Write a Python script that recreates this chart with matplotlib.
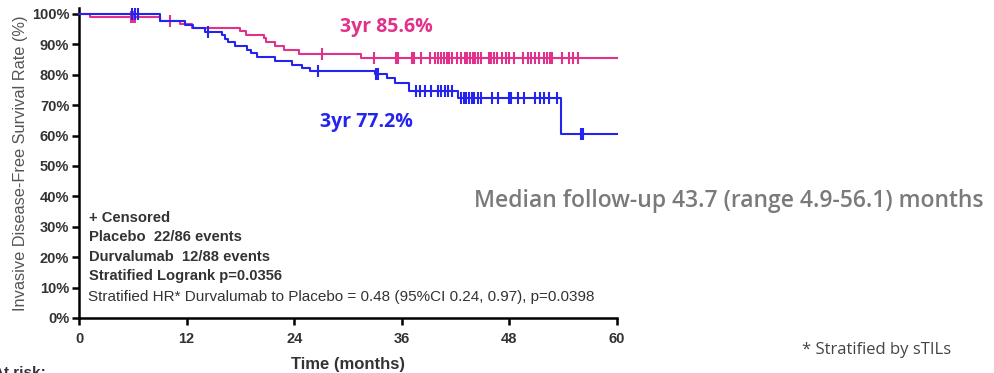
import numpy as np
import matplotlib.pyplot as plt
from matplotlib import font_manager

# Kaplan-Meier step data (months, survival %)
durva_t = [0, 1.2, 9.0, 11.3, 12.6, 17.9, 18.6, 20.6, 20.9, 21.9, 22.9, 24.5, 31.4]
durva_s = [100, 98.9, 97.8, 96.7, 95.5, 94.4, 93.2, 92.2, 90.9, 89.4, 88.1, 86.8, 85.6]
durva_cens = [5.8, 6.0, 6.3, 10.1, 27.1, 32.9, 35.3, 35.6, 37.1, 37.4, 38.1, 39.1,
              39.7, 40.0, 40.4, 40.7, 41.0, 41.3, 41.6, 42.2, 42.6, 43.0, 43.3, 43.6,
              43.9, 44.2, 44.5, 44.8, 45.7, 46.0, 46.3, 46.6, 47.2, 47.6, 47.9, 48.5,
              49.5, 50.1, 50.4, 50.8, 51.3, 51.9, 52.2, 52.5, 52.8, 53.9, 54.6, 55.1, 55.6]

plac_t = [0, 9.0, 11.8, 12.7, 14.0, 16.0, 16.3, 16.6, 17.4, 18.7, 19.2, 19.9, 21.9,
          23.8, 24.9, 25.8, 33.0, 34.4, 35.2, 36.8, 42.3, 53.7]
plac_s = [100, 97.7, 96.5, 95.3, 94.2, 93.0, 91.8, 90.6, 89.4, 88.2, 87.0, 85.9, 84.5,
          83.2, 82.3, 81.3, 80.2, 78.9, 77.2, 74.7, 72.5, 60.5]
plac_cens = [5.9, 6.2, 6.6, 14.4, 26.7, 33.1, 33.3, 37.6, 38.0, 38.6, 39.3, 40.0, 40.4,
             40.8, 41.2, 41.6, 42.6, 42.9, 43.2, 43.5, 43.8, 44.1, 44.5, 44.8, 46.1,
             46.7, 47.9, 48.2, 49.0, 49.6, 50.9, 51.4, 51.9, 52.4, 53.3, 56.0, 56.2]

x_ticks = [0, 12, 24, 36, 48, 60]
y_ticks = [0, 10, 20, 30, 40, 50, 60, 70, 80, 90, 100]

PINK = '#E2318A'
BLUE = '#2424EE'
DARK = '#333333'
ARIAL = ['Liberation Sans', 'DejaVu Sans']
CALIBRI = ['Open Sans', 'DejaVu Sans']

# narrow face for the HR line if it is around
names = {f.name for f in font_manager.fontManager.ttflist}
if 'Liberation Sans Narrow' in names:
    hr_font, hr_size = ['Liberation Sans Narrow', 'DejaVu Sans'], 13
else:
    hr_font, hr_size = ARIAL, 11


def surv_at(t, times, surv):
    idx = np.searchsorted(times, t, side='right') - 1
    return np.asarray(surv)[idx]


fig = plt.figure(figsize=(9.95, 3.73), dpi=100)
ax = fig.add_axes([0.0794, 0.1475, 0.5407, 0.8315])

for times, surv, cens, col in [(durva_t, durva_s, durva_cens, PINK),
                               (plac_t, plac_s, plac_cens, BLUE)]:
    ax.step(list(times) + [60], list(surv) + [surv[-1]], where='post',
            color=col, lw=1.5, clip_on=False, zorder=3)
    ax.plot(cens, surv_at(cens, times, surv), ls='none', marker='|',
            ms=8.5, mew=1.5, color=col, clip_on=False, zorder=3)

ax.set_xlim(0, 60)
ax.set_ylim(0, 102)
ax.set_xticks(x_ticks)
ax.set_yticks(y_ticks)
ax.set_yticklabels([f'{v}%' for v in y_ticks])
for s in ['top', 'right']:
    ax.spines[s].set_visible(False)
for s in ['left', 'bottom']:
    ax.spines[s].set_linewidth(1.8)
ax.tick_params(width=1.8, length=5, labelsize=10.5, colors='black', labelcolor=DARK)
ax.tick_params(axis='x', pad=5)
ax.tick_params(axis='y', pad=2)
for lab in ax.get_xticklabels() + ax.get_yticklabels():
    lab.set_fontweight('bold')
    lab.set_family(ARIAL)

ax.set_xlabel('Time (months)', fontsize=12, fontweight='bold', color=DARK,
              family=ARIAL, labelpad=8)
ax.set_ylabel('Invasive Disease-Free Survival Rate (%)', fontsize=11.8, color='#555555',
              family=ARIAL, labelpad=3)

# 3-year rates
ax.text(29.1, 95.6, '3yr 85.6%', color=PINK, fontsize=14, fontweight='bold',
        family=CALIBRI, va='center')
ax.text(26.9, 64.4, '3yr 77.2%', color=BLUE, fontsize=14, fontweight='bold',
        family=CALIBRI, va='center')

# legend block inside the axes
legend_lines = ['+ Censored', 'Placebo  22/86 events', 'Durvalumab  12/88 events',
                'Stratified Logrank p=0.0356']
for i, line in enumerate(legend_lines):
    ax.text(1.1, 33.0 - i * 6.4, line, fontsize=10.6, fontweight='bold', color=DARK,
            family=ARIAL, va='center')
ax.text(1.0, 6.8, 'Stratified HR* Durvalumab to Placebo = 0.48 (95%CI 0.24, 0.97), p=0.0398',
        fontsize=hr_size, color=DARK, va='center', family=hr_font)

fig.text(0.4764, 1 - 201 / 373, 'Median follow-up 43.7 (range 4.9-56.1) months',
         fontsize=16.5, fontweight='semibold', color='#7a7a7a', va='center',
         family=CALIBRI)
fig.text(0.806, 1 - 350 / 373, '* Stratified by sTILs', fontsize=12, color='#444444',
         va='center', family=CALIBRI)
fig.text(-0.007, 1 - 366 / 373, 'At risk:', fontsize=11, fontweight='bold', color=DARK,
         va='top', family=ARIAL)

fig.savefig('out.png', dpi=100)
